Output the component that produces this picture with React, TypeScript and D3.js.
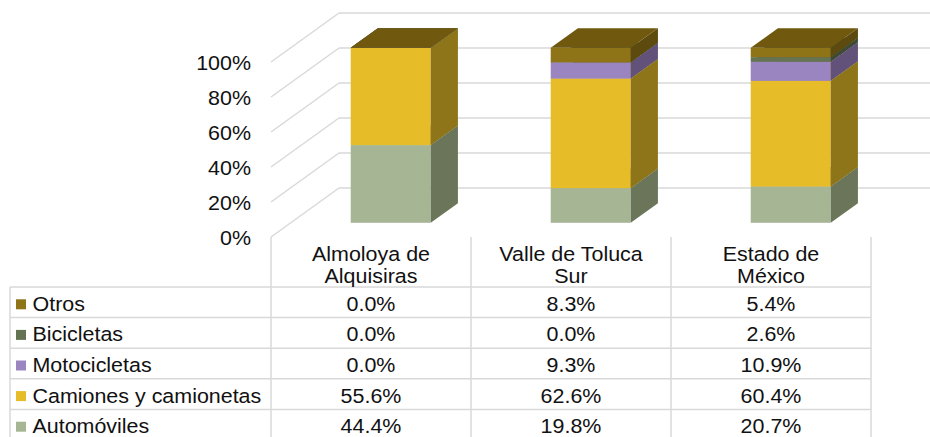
import React from "react";
import * as d3 from "d3";

const categories = [["Almoloya de", "Alquisiras"], ["Valle de Toluca", "Sur"], ["Estado de", "México"]];
const seriesNames = ["Automóviles", "Camiones y camionetas", "Motocicletas", "Bicicletas", "Otros"];
const automoviles = [44.4, 19.8, 20.7];
const camiones = [55.6, 62.6, 60.4];
const motocicletas = [0.0, 9.3, 10.9];
const bicicletas = [0.0, 0.0, 2.6];
const otros = [0.0, 8.3, 5.4];
const seriesValues = [automoviles, camiones, motocicletas, bicicletas, otros];
const yTicks = [0, 0.2, 0.4, 0.6, 0.8, 1.0];

const frontColors = ["#A6B593", "#E6BC28", "#9B85C1", "#647453", "#8E7416"];
const sideColors = ["#6B7559", "#8E7519", "#62527A", "#3F4A33", "#5C4A0E"];
const topColors = ["#8A9A78", "#B8961F", "#7E6A9E", "#505D42", "#70590F"];

const W = 930, H = 437;
const SX = 1.1;
const FONT = "'Liberation Sans', Arial, sans-serif";
const FS = 19.5;

const plotLeft = 271, plotRight = 871;
const DX = 68, DY = -49; // full depth offset
const barF0 = 0.29, barF1 = 0.69;

const x = d3.scaleBand<number>().domain([0, 1, 2]).range([plotLeft, plotRight]).paddingInner(0).paddingOuter(0);
const y = d3.scaleLinear().domain([0, 1]).range([237, 62]);

const tableTop = 287;
const rowH = 30.6;
const tableLeft = 10;

function T({ x, y, anchor = "start", children }: any) {
  return (
    <text transform={`translate(${x},${y}) scale(${SX},1)`} textAnchor={anchor}
      fontFamily={FONT} fontSize={FS} fill="#111">{children}</text>
  );
}

export default function App() {
  const stack = d3.stack<number>().keys(seriesNames.map((_, i) => String(i)))
    .value((idx, key) => seriesValues[+key][idx] / 100)(categories.map((_, i) => i));

  const grid = "#D9D9D9";
  const barW = 80;
  const fx = barF0 * DX, fy = barF0 * DY;
  const bdx = (barF1 - barF0) * DX, bdy = (barF1 - barF0) * DY;

  const tableRows = [...seriesNames.keys()].reverse();

  return (
    <svg width={W} height={H} style={{ position: "absolute", left: 0, top: 0 }}>
      <rect width={W} height={H} fill="#fff" />
      {yTicks.map((t) => (
        <g key={t}>
          <line x1={plotLeft} y1={y(t)} x2={plotLeft + DX} y2={y(t) + DY} stroke={grid} strokeWidth={1.5} />
          <line x1={plotLeft + DX} y1={y(t) + DY} x2={W} y2={y(t) + DY} stroke={grid} strokeWidth={1.5} />
        </g>
      ))}
      {yTicks.map((t) => (
        <T key={t} x={251} y={y(t) + 8} anchor="end">{d3.format(".0%")(t)}</T>
      ))}
      {categories.map((_, ci) => {
        const x0 = (x(ci) as number) + (x.bandwidth() - barW) / 2 + fx;
        const x1 = x0 + barW;
        return (
          <g key={ci}>
            {stack.map((s, si) => {
              const yb = y(s[ci][0]) + fy;
              const yt = y(s[ci][1]) + fy;
              return (
                <g key={si}>
                  <rect x={x0} y={yt} width={barW} height={Math.max(0, yb - yt)} fill={frontColors[si]} />
                  <polygon points={`${x1},${yt} ${x1},${yb} ${x1 + bdx},${yb + bdy} ${x1 + bdx},${yt + bdy}`} fill={sideColors[si]} />
                  <polygon points={`${x0},${yt} ${x1},${yt} ${x1 + bdx},${yt + bdy} ${x0 + bdx},${yt + bdy}`} fill={topColors[si]} />
                </g>
              );
            })}
          </g>
        );
      })}
      {[0, 1, 2, 3].map((i) => {
        const lx = plotLeft + i * x.bandwidth();
        return <line key={i} x1={lx} y1={y(0)} x2={lx} y2={H + 10} stroke={grid} strokeWidth={1.5} />;
      })}
      <line x1={tableLeft} y1={tableTop} x2={tableLeft} y2={H + 10} stroke={grid} strokeWidth={1.5} />
      {[0, 1, 2, 3, 4, 5].map((r) => (
        <line key={r} x1={tableLeft} y1={tableTop + r * rowH} x2={plotRight} y2={tableTop + r * rowH} stroke={grid} strokeWidth={1.5} />
      ))}
      {categories.map((lines, ci) => {
        const cx = (x(ci) as number) + x.bandwidth() / 2;
        return (
          <g key={ci}>
            <T x={cx} y={261} anchor="middle">{lines[0]}</T>
            <T x={cx} y={283} anchor="middle">{lines[1]}</T>
          </g>
        );
      })}
      {tableRows.map((si, r) => {
        const top = tableTop + r * rowH;
        return (
          <g key={si}>
            <rect x={16} y={top + 12.3} width={10} height={10} fill={frontColors[si]} />
            <T x={32.5} y={top + 23.7}>{seriesNames[si]}</T>
            {categories.map((_, ci) => (
              <T key={ci} x={(x(ci) as number) + x.bandwidth() / 2} y={top + 23.7} anchor="middle">
                {seriesValues[si][ci].toFixed(1) + "%"}
              </T>
            ))}
          </g>
        );
      })}
    </svg>
  );
}
